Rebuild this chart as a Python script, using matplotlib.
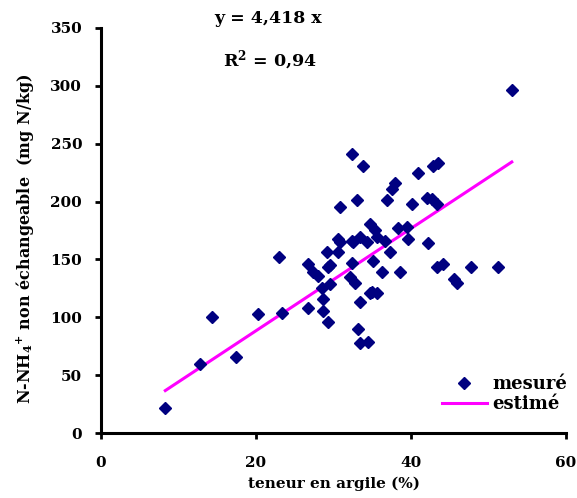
import numpy as np
import matplotlib.pyplot as plt

# teneur en argile (%) / N-NH4+ non echangeable (mg N/kg)
argile = [8.3, 12.8, 14.3, 17.4, 20.3, 23.0, 23.3, 26.7, 26.7, 27.4, 28.0,
          28.5, 28.6, 28.7, 29.2, 29.3, 29.3, 29.5, 29.5, 30.6, 30.6, 30.8,
          30.8, 32.1, 32.4, 32.4, 32.4, 32.5, 32.8, 33.0, 33.2, 33.4, 33.4,
          33.4, 33.8, 34.3, 34.4, 34.7, 34.7, 35.0, 35.1, 35.4, 35.6, 35.6,
          36.2, 36.6, 36.9, 37.3, 37.5, 37.9, 38.3, 38.6, 39.5, 39.6, 40.1,
          40.9, 42.0, 42.2, 42.7, 42.8, 43.3, 43.4, 43.5, 44.1, 45.5, 45.9,
          47.8, 51.2, 53.0]
nh4 = [22, 60, 100, 66, 103, 152, 104, 146, 108, 139, 136,
       125, 105, 116, 156, 143, 96, 129, 145, 156, 168, 165,
       195, 135, 147, 166, 241, 165, 130, 201, 90, 113, 78,
       169, 231, 165, 79, 121, 181, 122, 149, 175, 121, 169,
       139, 166, 201, 156, 211, 216, 177, 139, 178, 168, 198,
       225, 203, 164, 202, 231, 198, 143, 233, 146, 133, 130,
       143, 143, 296]

pente = 4.418
x_fit = np.array([8.3, 53.0])

plt.rcParams['font.family'] = ['DejaVu Serif']
plt.rcParams['font.weight'] = 'bold'
plt.rcParams['mathtext.fontset'] = 'dejavuserif'

fig = plt.figure(figsize=(5.77, 4.98), dpi=100)
ax = fig.add_axes([0.175, 0.1305, 0.806, 0.8135])

ax.plot(argile, nh4, 'D', color='#000080', markersize=6, label='mesuré', zorder=3)
ax.plot(x_fit, pente * x_fit, '-', color='#ff00ff', linewidth=2.2, label='estimé', zorder=2)

ax.set_xlim(0, 60)
ax.set_ylim(0, 350)
ax.set_xticks([0, 20, 40, 60])
ax.set_yticks(range(0, 351, 50))
for side in ['top', 'right']:
    ax.spines[side].set_visible(False)
for side in ['left', 'bottom']:
    ax.spines[side].set_linewidth(2.2)
ax.tick_params(direction='out', width=2, length=4.5, labelsize=11)
ax.tick_params(axis='x', pad=12)
ax.tick_params(axis='y', pad=9)

ax.set_xlabel('teneur en argile (%)', fontsize=11, fontweight='bold', labelpad=5)
ax.set_ylabel('N-NH$_\\mathbf{4}$$^\\mathbf{+}$ non échangeable  (mg N/kg)', fontsize=11.5,
              fontweight='bold')
ax.yaxis.set_label_coords(-0.14, 0.48)

fig.text(0.465, 0.962, 'y = 4,418 x', fontsize=12.5, fontweight='bold', ha='center', va='center')
fig.text(0.468, 0.88, 'R$^\\mathbf{2}$ = 0,94', fontsize=12.5, fontweight='bold', ha='center', va='center')

leg = ax.legend(loc='lower right', frameon=False, fontsize=13, handlelength=2.5,
                handletextpad=0.3, labelspacing=0.1, borderpad=0, borderaxespad=0,
                bbox_to_anchor=(0.983, 0.171), bbox_transform=fig.transFigure)

fig.savefig('out.png', dpi=100)
